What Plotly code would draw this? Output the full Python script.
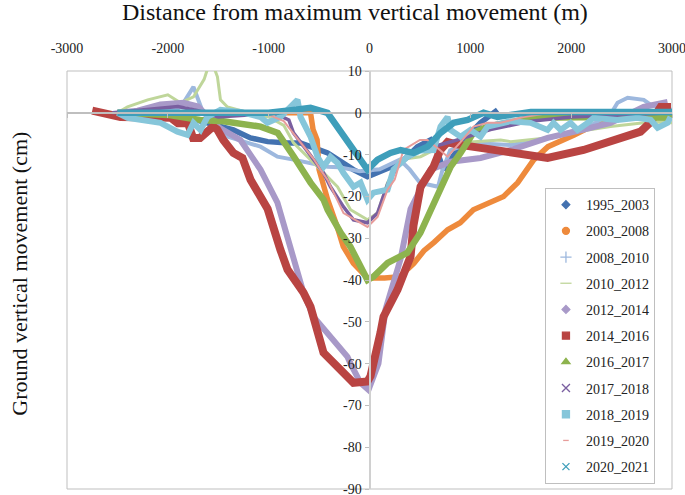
import plotly.graph_objects as go

# ---------------- data ----------------
names = ["1995_2003", "2003_2008", "2008_2010", "2010_2012", "2012_2014", "2014_2016",
         "2016_2017", "2017_2018", "2018_2019", "2019_2020", "2020_2021"]

x_1995_2003 = [-2450, -2000, -1750, -1600, -1480, -1350, -1180, -1010, -810, -685, -585, -415, -260, -160, -20,
               140, 310, 475, 605, 675, 735, 805, 905, 970, 1100, 1170, 1270]
y_1995_2003 = [0, -0.5, -1.5, -2.5, -3.3, -4.1, -6, -6.9, -7.2, -7.2, -8.1, -9.6, -12, -13.6, -15.3,
               -13.6, -12, -8.1, -6.5, -9.6, -13.6, -11.2, -8.1, -5.7, -2.4, -1, 0.7]

x_2003_2008 = [-2500, -1500, -800, -585, -560, -520, -500, -415, -320, -260, -160, -20, 150, 300, 440, 540, 640,
               775, 900, 1030, 1330, 1470, 1630, 1770, 2030, 2230, 2330, 2600, 3000]
y_2003_2008 = [0, 0, 0, 0, -4, -6.5, -13.6, -20.8, -27.3, -32, -36, -39.5, -39.5, -39.2, -36, -33, -31,
               -28, -26.3, -23.2, -20, -16.7, -11.2, -8.1, -5.3, -2.9, -1.7, -1, -1]

x_2008_2010 = [-2500, -2100, -1900, -1845, -1746, -1650, -1550, -1409, -1081, -913, -754, -417, -300, -100, 100,
               300, 400, 500, 680, 720, 800, 1000, 1400, 1800, 2200, 2400, 2460, 2560, 2720, 2790, 3000]
y_2008_2010 = [0, 0.5, 1, 2.4, 6.2, 0, -1.5, -5.7, -8.1, -10.5, -11.2, -12.9, -13, -14, -13.5,
               -11.2, -13.6, -16.7, -17.7, -14, -9, -7.2, -7.7, -6, -3, 0, 2.4, 3.6, 3.1, 1.9, 0.7]

x_2010_2012 = [-2500, -2400, -2200, -2000, -1875, -1746, -1640, -1600, -1560, -1508, -1478, -1409, -1200, -1000,
               -850, -754, -486, -317, -188, -20, 80, 179, 308, 506, 705, 1000, 1300, 1400, 1870, 2070, 2390,
               2790, 3000]
y_2010_2012 = [0, 1.4, 3.1, 4.3, 2.4, 3.8, 8, 11, 12, 8.6, 3.1, 1.4, 0, -1,
               -3, -7.2, -13.6, -17.7, -23.2, -25.6, -24, -16.7, -11.2, -10.5, -8.1, -7, -6.5, -6.9, -5.7, -4.5,
               -3.3, -2.2, -2.4]

x_2012_2014 = [-2500, -2300, -2073, -1845, -1700, -1600, -1508, -1280, -1081, -913, -784, -655, -556, -218, -188,
               -89, -10, 89, 159, 308, 407, 506, 605, 804, 1101, 1399, 1766, 2123, 2391, 2718, 2956]
y_2012_2014 = [0, 0.5, 2, 2.4, 1.5, -1, -3.3, -6.5, -13.6, -21.5, -32.8, -43, -48.8, -58.4, -60,
               -64.6, -66.3, -60, -47, -35, -23, -18.4, -13.6, -11.7, -10.8, -8.9, -6, -4, -2.4, 1.4, 2.6]

x_2014_2016 = [-2750, -2470, -1970, -1900, -1800, -1750, -1680, -1550, -1510, -1450, -1350, -1260, -1180, -1010,
               -883, -813, -655, -585, -456, -317, -159, -20, 10, 109, 139, 278, 407, 436, 506, 635, 700, 774,
               850, 1101, 1400, 1766, 2123, 2520, 2688, 2790, 2887, 2990]
y_2014_2016 = [0.5, -1, -1.2, -2.5, -2.5, -6, -6, -3.3, -4, -6.5, -9.6, -10.8, -16, -23,
               -32.8, -37.5, -43, -46.4, -57.4, -60.7, -64.6, -64.3, -63, -52.6, -48.8, -42.3, -34.4, -27, -17.7,
               -12.9, -9, -7, -7.5, -8.4, -9.6, -10.8, -8.9, -5.7, -4.5, -2.2, 1.4, 1.4]

x_2016_2017 = [-2500, -2000, -1680, -1450, -1080, -910, -750, -585, -455, -415, -285, -190, -20, 40, 180, 375,
               505, 670, 805, 903, 975, 1030, 1170, 1400, 1630, 2300, 3000]
y_2016_2017 = [0, -0.5, -1.7, -2, -3.3, -4.8, -10.5, -16.7, -20.8, -23.2, -28.7, -32, -40, -39.2, -35.9, -33.5,
               -28.7, -20, -12.9, -9.6, -7.2, -4.8, -3.3, -2.4, -1.2, -1, -1.2]

x_2017_2018 = [-2550, -2300, -1900, -1700, -1500, -1200, -950, -800, -754, -650, -555, -456, -387, -258, -159,
               -20, 80, 180, 300, 500, 800, 1200, 1600, 2000, 2500, 3000]
y_2017_2018 = [0, 0.5, 1.5, 0.5, -1, -0.5, 0, -1.7, -4.8, -8.1, -11.2, -14.4, -17.7, -22.5, -25.6,
               -26.3, -24, -17, -12, -9, -7, -4, -2, -1, -0.5, 0]

x_2018_2019 = [-2500, -2400, -2073, -1905, -1805, -1746, -1676, -1607, -1478, -1280, -1081, -1012, -883, -754,
               -714, -684, -585, -516, -456, -387, -317, -258, -159, -89, -20, 40, 179, 238, 377, 506, 635, 704,
               774, 804, 903, 1002, 1101, 1171, 1399, 1597, 1766, 1825, 1895, 1994, 2063, 2163, 2222, 2460, 2659,
               2788, 2857, 2956, 2986]
y_2018_2019 = [0, -1.2, -2.4, -4.5, -5.3, -2.4, -4.1, -1, 0.7, 0.2, -1, -2.4, -1, 2.4,
               3.1, -1, -5.7, -10.5, -12.9, -10.5, -12, -14.4, -17.7, -16.7, -20.8, -19.1, -18.4, -13.6, -10.5,
               -9, -8.9, -3.3, -1, -4.1, -5.7, -4.1, -5.7, -3.3, -2, -2.4, -4.1, -2.4, -4.1, -2.4, -4.1, -2.4,
               -1.2, -1.7, -1.2, -1.7, -3.6, -2.4, -1]

x_2019_2020 = [-2500, -1500, -1000, -850, -754, -650, -555, -486, -417, -258, -20, 80, 179, 250, 337, 500, 575,
               704, 774, 903, 1032, 1171, 1300, 1528, 1796, 3000]
y_2019_2020 = [0, 0, -0.5, -2, -5, -8, -11, -13.6, -16, -24, -27.3, -24.9, -18.4, -16, -8.9, -6.5, -6.5,
               -9, -10.5, -7, -3.3, -2.4, -2.4, -1, 0, 0]

x_2020_2021 = [-2500, -2000, -1500, -1000, -754, -585, -417, -317, -188, -89, -20, 80, 208, 308, 437, 575, 705,
               834, 972, 1131, 1270, 1400, 1600, 2000, 2500, 3000]
y_2020_2021 = [0, 0, 0, 0, 0.7, 1.2, 0, -3.3, -8.1, -11.2, -13.6, -11.2, -9.6, -8.9, -9.6, -8.1, -4.8,
               -2.4, -1.7, 0, -1, -0.5, 0.2, 0.2, 0.2, 0.2]

x_ticks = [-3000, -2000, -1000, 0, 1000, 2000, 3000]
x_tick_labels = ["-3000", "-2000", "-1000", "0", "1000", "2000", "3000"]
y_ticks = [-90, -80, -70, -60, -50, -40, -30, -20, -10, 0, 10]
y_tick_labels = ["-90", "-80", "-70", "-60", "-50", "-40", "-30", "-20", "-10", "0", "10"]

series_x = [x_1995_2003, x_2003_2008, x_2008_2010, x_2010_2012, x_2012_2014, x_2014_2016,
            x_2016_2017, x_2017_2018, x_2018_2019, x_2019_2020, x_2020_2021]
series_y = [y_1995_2003, y_2003_2008, y_2008_2010, y_2010_2012, y_2012_2014, y_2014_2016,
            y_2016_2017, y_2017_2018, y_2018_2019, y_2019_2020, y_2020_2021]

# ---------------- styles ----------------
colors = ["#4372B0", "#EE8A3C", "#9DB8DE", "#BFD69A", "#A899C8", "#B94442",
          "#8DB34E", "#7A5FA0", "#86C6DA", "#E79C9A", "#3E9EBA"]
widths = [5.5, 5.5, 4, 3, 6, 8, 6.5, 3.5, 6, 2, 6.5]
symbols = ["diamond", "circle", "cross-thin-open", "line-ew-open", "diamond", "square",
           "triangle-up", "x-thin-open", "square", "line-ew-open", "x-thin-open"]
msizes = [6, 7, 8, 8, 6, 7, 7, 8, 7, 4, 7]

FONT = "Liberation Serif"
TXT = "#222222"
fig = go.Figure()

for i, n in enumerate(names):
    fig.add_trace(go.Scatter(
        x=series_x[i], y=series_y[i], mode="lines", name=n,
        line=dict(color=colors[i], width=widths[i]),
        legendgroup=n, showlegend=False))

for i, n in enumerate(names):
    fig.add_trace(go.Scatter(
        x=[None], y=[None], mode="markers", name=n, xaxis="x2",
        marker=dict(symbol=symbols[i], color=colors[i], size=msizes[i],
                    line=dict(color=colors[i], width=1.3)),
        legendgroup=n, showlegend=True))

fig.update_layout(
    width=685, height=495, autosize=False,
    margin=dict(l=67, r=13, t=71, b=6, autoexpand=False),
    paper_bgcolor="white", plot_bgcolor="white",
    font=dict(family=FONT, size=14, color=TXT),
    xaxis=dict(range=[-3000, 3000], side="top", tickvals=x_ticks, ticktext=x_tick_labels,
               showgrid=False, automargin=False, ticklabeloverflow="allow",
               zeroline=False, showline=False, ticks="", ticklabelstandoff=14,
               tickfont=dict(family=FONT, size=14, color=TXT)),
    xaxis2=dict(range=[-3000, 3000], overlaying="x", anchor="free", position=0.9,
                side="bottom", tickvals=x_ticks, showticklabels=False, showgrid=False,
                zeroline=False, showline=True, linecolor="#BFBFBF", linewidth=1.5,
                ticks="outside", ticklen=4, tickcolor="#BFBFBF", automargin=False),
    yaxis=dict(range=[-90, 10], tickvals=y_ticks, ticktext=y_tick_labels,
               anchor="free", position=0.5, side="left", automargin=False,
               ticklabeloverflow="allow",
               showgrid=False, zeroline=False, showline=True, linecolor="#D0D0D0", linewidth=2,
               ticks="outside", ticklen=4, tickcolor="#BFBFBF",
               tickfont=dict(family=FONT, size=14, color=TXT)),
    legend=dict(x=0.79, y=0.72, xanchor="left", yanchor="top",
                bordercolor="#BFBFBF", borderwidth=1, bgcolor="white",
                traceorder="grouped", tracegroupgap=5,
                font=dict(family=FONT, size=14, color=TXT)),
    shapes=[dict(type="rect", xref="paper", yref="paper", x0=0, x1=1, y0=0, y1=1,
                 line=dict(color="#BFBFBF", width=1), layer="below")],
    annotations=[
        dict(text="Distance from maximum vertical movement (m)", xref="paper", yref="paper",
             x=0.476, y=1.141, xanchor="center", yanchor="middle", showarrow=False,
             font=dict(family=FONT, size=24, color="#111111")),
        dict(text="Ground vertical movement (cm)", xref="paper", yref="paper",
             x=-0.0777, y=0.515, xanchor="center", yanchor="middle", showarrow=False,
             textangle=-90, font=dict(family=FONT, size=22, color="#111111")),
    ],
)

fig.write_html("out.html", config={"displayModeBar": False},
               post_script="document.body.style.margin='0px';")
